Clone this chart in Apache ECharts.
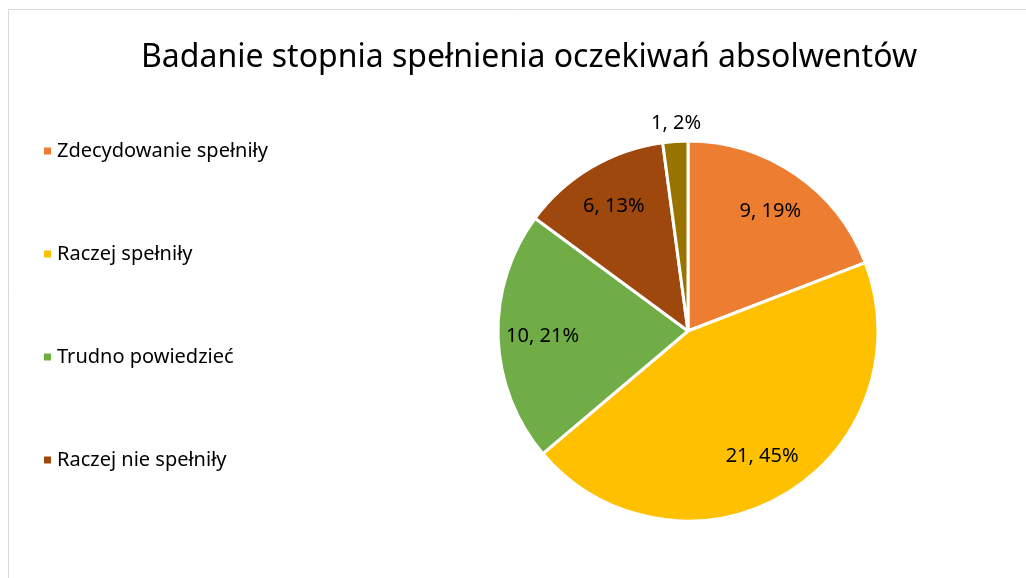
<!DOCTYPE html>
<html>
<head>
<meta charset="utf-8">
<script src="https://cdn.jsdelivr.net/npm/echarts@6/dist/echarts.min.js"></script>
<style>
  html, body { margin: 0; padding: 0; background: #fff; }
  #chart { width: 1026px; height: 578px; }
</style>
</head>
<body>
<div id="chart"></div>
<script>
const categories = [
  "Zdecydowanie spełniły",
  "Raczej spełniły",
  "Trudno powiedzieć",
  "Raczej nie spełniły",
  "Zdecydowanie nie spełniły"
];
const counts = [9, 21, 10, 6, 1];
const legendShown = categories.slice(0, 4);
const colors = ["#ED7D31", "#FFC000", "#70AD47", "#9E480E", "#997300"];

const total = counts.reduce((a, b) => a + b, 0);
const font = "Noto Sans, sans-serif";

const chart = echarts.init(document.getElementById("chart"));

const pieData = categories.map((name, i) => ({ name, value: counts[i] }));

// label-only overlay so the inside labels sit at ~3/4 radius like Excel
const labelData = categories.map((name, i) => {
  const item = { name, value: counts[i] };
  if (counts[i] / total < 0.05) {
    item.label = { position: "outside" };
  }
  return item;
});

chart.setOption({
  color: colors,
  title: {
    text: "Badanie stopnia spełnienia oczekiwań absolwentów",
    left: 136,
    top: 37,
    textStyle: { fontFamily: font, fontSize: 32, fontWeight: "normal", color: "#000" }
  },
  graphic: [{
    type: "rect",
    shape: { x: 8.5, y: 9.5, width: 1100, height: 700 },
    style: { fill: "none", stroke: "#d9d9d9", lineWidth: 1 },
    silent: true
  }],
  legend: {
    orient: "vertical",
    left: 37,
    top: 136,
    data: legendShown,
    icon: "rect",
    itemWidth: 9,
    itemHeight: 9,
    itemGap: 83,
    selectedMode: false,
    textStyle: { fontFamily: font, fontSize: 20, color: "#000", lineHeight: 20, padding: [0, 0, 0, 0] }
  },
  series: [
    {
      type: "pie",
      center: [688, 331],
      radius: [0, 190],
      startAngle: 90,
      data: pieData,
      itemStyle: { borderColor: "#fff", borderWidth: 3 },
      label: { show: false },
      labelLine: { show: false },
      emphasis: { disabled: true }
    },
    {
      type: "pie",
      center: [688, 331],
      radius: [95, 190],
      startAngle: 90,
      data: labelData,
      silent: true,
      itemStyle: { color: "rgba(0,0,0,0)", borderWidth: 0 },
      label: {
        show: true,
        position: "inside",
        fontFamily: font,
        fontSize: 20,
        color: "#000",
        formatter: (p) => p.value + ", " + Math.round(p.value / total * 100) + "%"
      },
      labelLine: { show: false, length: 6, length2: 0 },
      labelLayout: (p) => {
        if (counts[p.dataIndex] / total < 0.05) {
          return { x: 676, dy: -12, align: "center" };
        }
        return {};
      },
      emphasis: { disabled: true }
    }
  ]
});
</script>
</body>
</html>
